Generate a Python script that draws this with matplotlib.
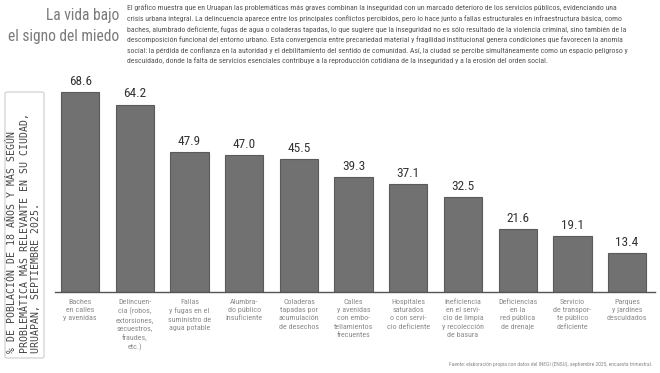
import matplotlib
matplotlib.use("Agg")
import matplotlib.pyplot as plt
from matplotlib.patches import FancyBboxPatch
import logging
logging.getLogger("matplotlib.font_manager").setLevel(logging.ERROR)

categories = [
    "Baches\nen calles\ny avenidas",
    "Delincuen-\ncia (robos,\nextorsiones,\nsecuestros,\nfraudes,\netc.)",
    "Fallas\ny fugas en el\nsuministro de\nagua potable",
    "Alumbra-\ndo público\ninsuficiente",
    "Coladeras\ntapadas por\nacumulación\nde desechos",
    "Calles\ny avenidas\ncon embo-\ntellamientos\nfrecuentes",
    "Hospitales\nsaturados\no con servi-\ncio deficiente",
    "Ineficiencia\nen el servi-\ncio de limpia\ny recolección\nde basura",
    "Deficiencias\nen la\nred pública\nde drenaje",
    "Servicio\nde transpor-\nte público\ndeficiente",
    "Parques\ny jardines\ndescuidados",
]
values = [68.6, 64.2, 47.9, 47.0, 45.5, 39.3, 37.1, 32.5, 21.6, 19.1, 13.4]
value_labels = ["68.6", "64.2", "47.9", "47.0", "45.5", "39.3", "37.1", "32.5", "21.6", "19.1", "13.4"]

title = "La vida bajo\nel signo del miedo"
paragraph = [
    "El gráfico muestra que en Uruapan las problemáticas más graves combinan la inseguridad con un marcado deterioro de los servicios públicos, evidenciando una",
    "crisis urbana integral. La delincuencia aparece entre los principales conflictos percibidos, pero lo hace junto a fallas estructurales en infraestructura básica, como",
    "baches, alumbrado deficiente, fugas de agua o coladeras tapadas, lo que sugiere que la inseguridad no es sólo resultado de la violencia criminal, sino también de la",
    "descomposición funcional del entorno urbano. Esta convergencia entre precariedad material y fragilidad institucional genera condiciones que favorecen la anomia",
    "social: la pérdida de confianza en la autoridad y el debilitamiento del sentido de comunidad. Así, la ciudad se percibe simultáneamente como un espacio peligroso y",
    "descuidado, donde la falta de servicios esenciales contribuye a la reproducción cotidiana de la inseguridad y a la erosión del orden social.",
]
ylabel = "% DE POBLACIÓN DE 18 AÑOS Y MÁS SEGÚN\nPROBLEMÁTICA MÁS RELEVANTE EN SU CIUDAD,\nURUAPAN, SEPTIEMBRE 2025."
source = "Fuente: elaboración propia con datos del INEGI (ENSU), septiembre 2025, encuesta trimestral."

NARROW = ["Liberation Sans Narrow", "Roboto Condensed", "DejaVu Sans Condensed", "Liberation Sans"]

W, H = 660, 373
fig = plt.figure(figsize=(6.6, 3.73), dpi=100)
fig.patch.set_facecolor("white")

def fx(px):
    return px / W

def fy(py):
    return 1 - py / H

# axes: left 55px, right 655px, bottom 292px, top 85px
ax = fig.add_axes([fx(55), fy(292), fx(600), (292 - 85) / H])
pos = list(range(len(values)))
ax.bar(pos, values, width=0.7, color="#717171", edgecolor="#5a5a5a", linewidth=0.8)
ax.set_xlim(-0.46, 10.51)
ax.set_ylim(0, (292 - 85) / 2.92)
for s in ["top", "right", "left"]:
    ax.spines[s].set_visible(False)
ax.spines["bottom"].set_color("#555555")
ax.spines["bottom"].set_linewidth(1.0)
ax.set_yticks([])
ax.set_xticks(pos)
ax.set_xticklabels(categories, fontsize=5.8, color="#8a8a8a", family=NARROW,
                   linespacing=1.45, va="top")
ax.tick_params(axis="x", length=0, pad=5)

for p, v, lab in zip(pos, values, value_labels):
    ax.annotate(lab, (p, v), xytext=(0, 3), textcoords="offset points", ha="center", va="bottom",
                fontsize=9.5, color="#333333", family=NARROW)

# title
fig.text(fx(119), fy(8), title, ha="right", va="top", fontsize=11.2, color="#7a7a7a",
         family=NARROW, linespacing=1.5)

# paragraph
for i, line in enumerate(paragraph):
    fig.text(fx(127), fy(8 + i * 10.6), line, ha="left", va="center", fontsize=5.55,
             color="#555555", family=NARROW)

# y label box
box = FancyBboxPatch((fx(5), fy(358)), fx(39), (358 - 92) / H,
                     boxstyle="round,pad=0,rounding_size=0.004", transform=fig.transFigure,
                     facecolor="white", edgecolor="#cccccc", linewidth=0.8)
fig.patches.append(box)
fig.text(fx(24), fy(353), ylabel, rotation=90, ha="center", va="bottom", fontsize=7.1,
         color="#444444", family="DejaVu Sans Mono", linespacing=1.15, multialignment="left")

# source
fig.text(fx(652), fy(364), source, ha="right", va="center", fontsize=4.0, color="#888888",
         family=NARROW)

fig.savefig("out.png", dpi=100)
